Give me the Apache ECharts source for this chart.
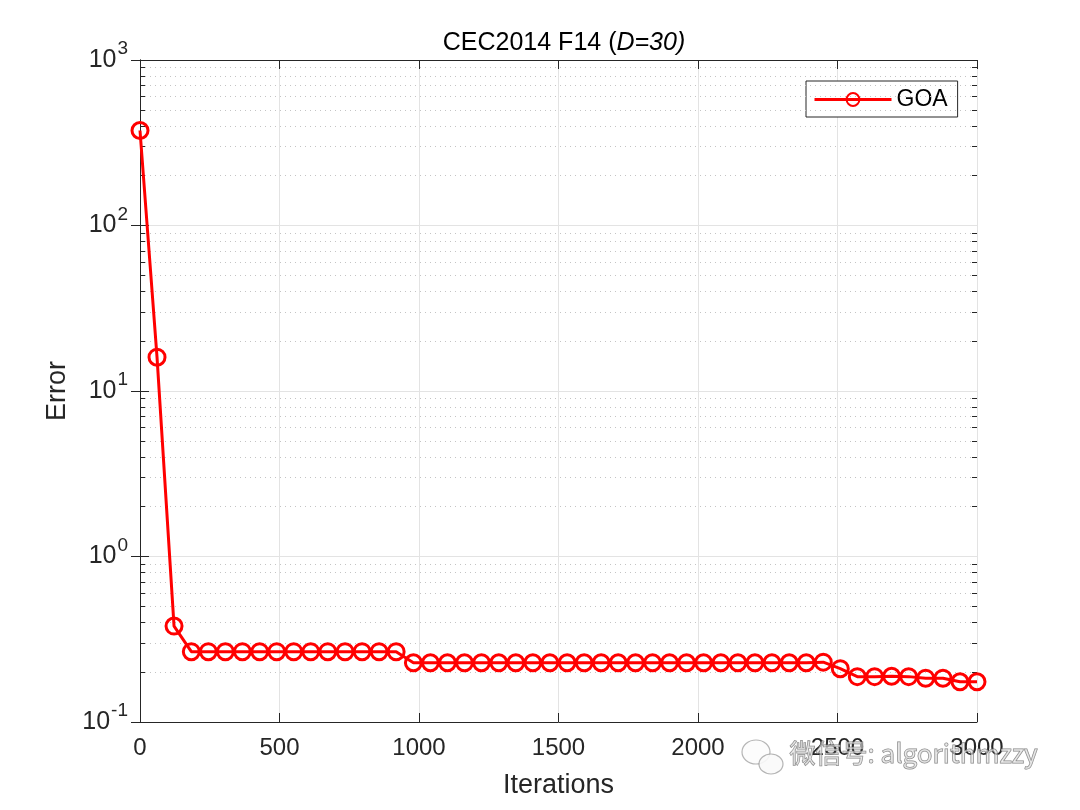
<!DOCTYPE html>
<html>
<head>
<meta charset="utf-8">
<script src="https://cdn.jsdelivr.net/npm/echarts@6/dist/echarts.min.js"></script>
<style>
  html, body { margin: 0; padding: 0; background: #fff; }
  #chart { width: 1080px; height: 810px; }
</style>
</head>
<body>
<div id="chart"></div>
<script>
// iteration at which each marker was recorded
const iterations = [0, 61, 122, 184, 245, 306, 367, 429, 490, 551, 612, 673, 735, 796, 857, 918,
  980, 1041, 1102, 1163, 1224, 1286, 1347, 1408, 1469, 1531, 1592, 1653, 1714, 1776, 1837, 1898,
  1959, 2020, 2082, 2143, 2204, 2265, 2327, 2388, 2449, 2510, 2571, 2633, 2694, 2755, 2816, 2878,
  2939, 3000];
// GOA error curve
const goaError = [375, 16.0, 0.38, 0.266, 0.266, 0.266, 0.266, 0.266, 0.266, 0.266, 0.266, 0.266,
  0.266, 0.266, 0.266, 0.266,
  0.228, 0.228, 0.228, 0.228, 0.228, 0.228, 0.228, 0.228, 0.228, 0.228, 0.228, 0.228, 0.228,
  0.228, 0.228, 0.228, 0.228, 0.228, 0.228, 0.228, 0.228, 0.228, 0.228, 0.228, 0.23,
  0.21, 0.188, 0.188, 0.189, 0.188, 0.184, 0.184, 0.175, 0.175];
const xTicks = [0, 500, 1000, 1500, 2000, 2500, 3000];
const decades = [0.1, 1, 10, 100];
const minorSteps = [2, 3, 4, 5, 6, 7, 8, 9];

const font = '"Liberation Sans", Arial, sans-serif';
const axisColor = '#262626';

// minor grid (dotted) and minor ticks on both sides
let minorGrid = [];
let minorTicks = [];
decades.forEach(d => {
  minorSteps.forEach(k => {
    const v = +(k * d).toPrecision(3);
    minorGrid.push({ yAxis: v });
    minorTicks.push([{ coord: [0, v] }, { coord: [18, v] }]);
    minorTicks.push([{ coord: [2982, v] }, { coord: [3000, v] }]);
  });
});

const expLabel = v => '{b|10}{s|' + Math.round(Math.log10(v)) + '}';

let chart = echarts.init(document.getElementById('chart'));
chart.setOption({
  animation: false,
  backgroundColor: '#fff',
  title: {
    text: 'CEC2014 F14 ({i|D=30)}',
    left: 559, top: 26, textAlign: 'center',
    textStyle: {
      fontFamily: font, fontSize: 25, fontWeight: 'normal', color: '#000',
      rich: { i: { fontFamily: font, fontSize: 25, fontStyle: 'italic', color: '#000' } }
    }
  },
  legend: {
    left: 806, top: 81,
    backgroundColor: '#fff',
    borderColor: axisColor, borderWidth: 1,
    padding: [7, 10, 6, 7],
    itemWidth: 77, itemHeight: 16, itemGap: 5,
    lineStyle: { width: 3 },
    textStyle: { fontFamily: font, fontSize: 23, color: '#000' },
    data: ['GOA']
  },
  grid: { left: 140, right: 103, top: 60, bottom: 88 },
  xAxis: [{
    type: 'value', min: 0, max: 3000, interval: 500,
    name: 'Iterations', nameLocation: 'middle', nameGap: 50,
    nameTextStyle: { fontFamily: font, fontSize: 27, color: axisColor },
    axisLine: { lineStyle: { color: axisColor } },
    axisTick: { inside: true, length: 9, lineStyle: { color: axisColor } },
    axisLabel: {
      fontFamily: font, fontSize: 24, color: axisColor, margin: 14,
      formatter: v => xTicks.includes(v) ? String(v) : ''
    },
    splitLine: { show: true, lineStyle: { color: '#e3e3e3' } }
  }, {
    type: 'value', min: 0, max: 3000, interval: 500, position: 'top',
    axisLine: { lineStyle: { color: axisColor } },
    axisTick: { inside: true, length: 9, lineStyle: { color: axisColor } },
    axisLabel: { show: false },
    splitLine: { show: false }
  }],
  yAxis: [{
    type: 'log', logBase: 10, min: 0.1, max: 1000,
    name: 'Error', nameLocation: 'middle', nameGap: 68,
    nameTextStyle: { fontFamily: font, fontSize: 27, color: axisColor },
    axisLine: { show: true, lineStyle: { color: axisColor } },
    axisTick: { inside: true, length: 9, lineStyle: { color: axisColor } },
    axisLabel: {
      color: axisColor, margin: 12,
      formatter: expLabel,
      rich: {
        b: { fontFamily: font, fontSize: 25, lineHeight: 25, color: axisColor, verticalAlign: 'bottom', padding: [10, 0, 0, 0] },
        s: { fontFamily: font, fontSize: 19, lineHeight: 19, color: axisColor, verticalAlign: 'bottom', padding: [0, 0, 14, 1] }
      }
    },
    splitLine: { show: true, lineStyle: { color: '#e3e3e3' } }
  }, {
    type: 'log', logBase: 10, min: 0.1, max: 1000, position: 'right',
    axisLine: { show: true, lineStyle: { color: axisColor } },
    axisTick: { inside: true, length: 9, lineStyle: { color: axisColor } },
    axisLabel: { show: false },
    splitLine: { show: false }
  }],
  series: [{
    name: 'GOA',
    type: 'line',
    data: iterations.map((it, i) => [it, goaError[i]]),
    symbol: 'circle',
    symbolSize: 16,
    showAllSymbol: true,
    lineStyle: { color: '#ff0000', width: 3 },
    itemStyle: { color: 'rgba(255,255,255,0)', borderColor: '#ff0000', borderWidth: 3 },
    z: 5,
    markLine: {
      silent: true, symbol: 'none', animation: false,
      label: { show: false },
      emphasis: { disabled: true },
      lineStyle: { color: '#c4c4c4', type: [1, 4], width: 1 },
      data: minorGrid
    }
  }, {
    name: 'minorTicks',
    type: 'line',
    data: [],
    markLine: {
      silent: true, symbol: 'none', animation: false,
      label: { show: false },
      lineStyle: { color: axisColor, type: 'solid', width: 1 },
      data: minorTicks
    }
  }],
  graphic: [{
    type: 'ellipse', shape: { cx: 756, cy: 752, rx: 14, ry: 12 },
    style: { fill: 'rgba(250,250,250,0.6)', stroke: 'rgba(150,150,150,0.7)', lineWidth: 1.2 },
    z: 100
  }, {
    type: 'ellipse', shape: { cx: 771, cy: 764, rx: 12, ry: 10 },
    style: { fill: 'rgba(250,250,250,0.9)', stroke: 'rgba(150,150,150,0.7)', lineWidth: 1.2 },
    z: 101
  }, {
    type: 'text', left: 789, top: 740, z: 102,
    style: {
      text: '微信号: algorithmzzy',
      font: '26px "Noto Sans CJK SC", sans-serif',
      fill: 'rgba(225,225,225,0.6)',
      stroke: 'rgba(100,100,100,0.8)',
      lineWidth: 1
    }
  }]
});
</script>
</body>
</html>
